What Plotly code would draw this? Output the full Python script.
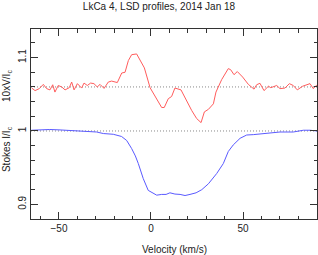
import plotly.graph_objects as go

# Stokes V (scaled 10x, offset) profile
v_vel = [-64.8, -63.0, -60.7, -58.5, -56.7, -54.9, -53.4, -52.2, -50.4, -48.5, -46.7, -44.4,
         -43.1, -41.8, -40.0, -37.7, -36.4, -34.6, -32.8, -31.0, -29.2, -27.7, -25.5, -23.2,
         -21.4, -18.3, -15.9, -14.1, -12.3, -10.5, -7.8, -6.4, -3.6, -0.5, 3.1, 5.8, 7.2,
         9.4, 11.2, 13.0, 16.3, 19.0, 22.1, 24.8, 27.2, 29.0, 31.2, 33.9, 35.3, 38.4, 42.0,
         43.3, 45.1, 46.9, 49.8, 52.9, 56.0, 57.4, 59.2, 61.4, 63.8, 65.1, 68.3, 70.1, 72.8,
         75.2, 77.3, 79.5, 82.4, 86.4, 88.2, 90.2]
v_val = [1.0585, 1.055, 1.0577, 1.0635, 1.0577, 1.056, 1.063, 1.053, 1.062, 1.060, 1.056, 1.059,
         1.0667, 1.056, 1.0645, 1.0585, 1.0653, 1.062, 1.0653, 1.0645, 1.060, 1.0635, 1.058, 1.0667,
         1.068, 1.066, 1.079, 1.080, 1.096, 1.104, 1.105, 1.0985, 1.086, 1.059, 1.044, 1.032, 1.032,
         1.044, 1.047, 1.0585, 1.056, 1.042, 1.028, 1.017, 1.0114, 1.026, 1.0295, 1.037, 1.053, 1.070, 1.085,
         1.0835, 1.0767, 1.081, 1.0735, 1.0635, 1.057, 1.063, 1.065, 1.055, 1.061, 1.059, 1.062, 1.0577, 1.0585,
         1.0645, 1.062, 1.056, 1.061, 1.0645, 1.0577, 1.063]

# Stokes I profile
i_vel = [-65.0, -60.0, -55.0, -50.0, -45.0, -40.0, -35.0, -29.5, -25.9, -20.5, -16.0, -13.2,
         -10.5, -8.5, -6.9, -4.2, -1.5, 1.3, 3.1, 5.8, 8.2, 10.3, 13.0, 15.8, 18.5, 21.2, 24.5,
         27.6, 31.2, 35.7, 39.3, 42.0, 44.7, 48.4, 52.0, 55.6, 62.9, 70.1, 77.3, 82.8, 86.4, 90.2]
i_val = [1.001, 1.002, 1.002, 1.0015, 1.001, 1.0, 0.9995, 0.9986, 0.9965, 0.9955, 0.9925, 0.987,
         0.976, 0.966, 0.9556, 0.935, 0.919, 0.915, 0.9125, 0.9135, 0.9135, 0.9157, 0.914, 0.9135,
         0.912, 0.9135, 0.9157, 0.920, 0.928, 0.942, 0.9556, 0.972, 0.981, 0.990, 0.9945, 0.995,
         0.9973, 0.9986, 0.9986, 1.001, 1.001, 1.000]

v_zero = 1.06
i_cont = 1.0

FONT = dict(family="Liberation Sans", size=10, color="#222222")

fig = go.Figure()
fig.add_trace(go.Scatter(x=v_vel, y=v_val, mode="lines",
                         line=dict(color="#ff5c5c", width=1), showlegend=False))
fig.add_trace(go.Scatter(x=i_vel, y=i_val, mode="lines",
                         line=dict(color="#5a5aff", width=1), showlegend=False))

for yv in (v_zero, i_cont):
    fig.add_shape(type="line", xref="paper", yref="y", x0=0, x1=1, y0=yv, y1=yv,
                  line=dict(color="#888888", width=1, dash="1px,2px"), layer="below")

axis_common = dict(showline=True, linecolor="#333333", linewidth=1, mirror="ticks",
                   ticks="inside", tickcolor="#333333", showgrid=False, zeroline=False,
                   automargin=False, tickfont=FONT)

fig.update_xaxes(range=[-65.2, 90.2], dtick=50, tick0=0, ticklen=7,
                 minor=dict(dtick=10, ticklen=3.5, ticks="inside", tickcolor="#333333"),
                 **axis_common)
fig.update_yaxes(range=[0.88, 1.139], dtick=0.1, tick0=0, ticklen=7, tickangle=-90,
                 minor=dict(dtick=0.02, ticklen=3.5, ticks="inside", tickcolor="#333333"),
                 **axis_common)

fig.add_annotation(text="Velocity (km/s)", xref="paper", yref="paper", x=0.5, y=-0.158,
                   xanchor="center", yanchor="middle", showarrow=False, font=FONT)
fig.add_annotation(text="10xV/I<sub>c</sub>", xref="paper", yref="paper", x=-0.084, y=0.70,
                   xanchor="center", yanchor="middle", textangle=-90, showarrow=False, font=FONT)
fig.add_annotation(text="Stokes I/I<sub>c</sub>", xref="paper", yref="paper", x=-0.084, y=0.368,
                   xanchor="center", yanchor="middle", textangle=-90, showarrow=False, font=FONT)

fig.update_layout(
    width=318, height=255,
    margin=dict(l=31, r=1, t=29, b=36, autoexpand=False),
    paper_bgcolor="white", plot_bgcolor="white",
    title=dict(text="LkCa 4, LSD profiles, 2014 Jan 18", x=0.5, xanchor="center",
               y=0.975, yanchor="middle", font=FONT),
)

fig.write_html("out.html", config={"displayModeBar": False},
               post_script="document.body.style.margin='0';document.body.style.overflow='hidden';")
